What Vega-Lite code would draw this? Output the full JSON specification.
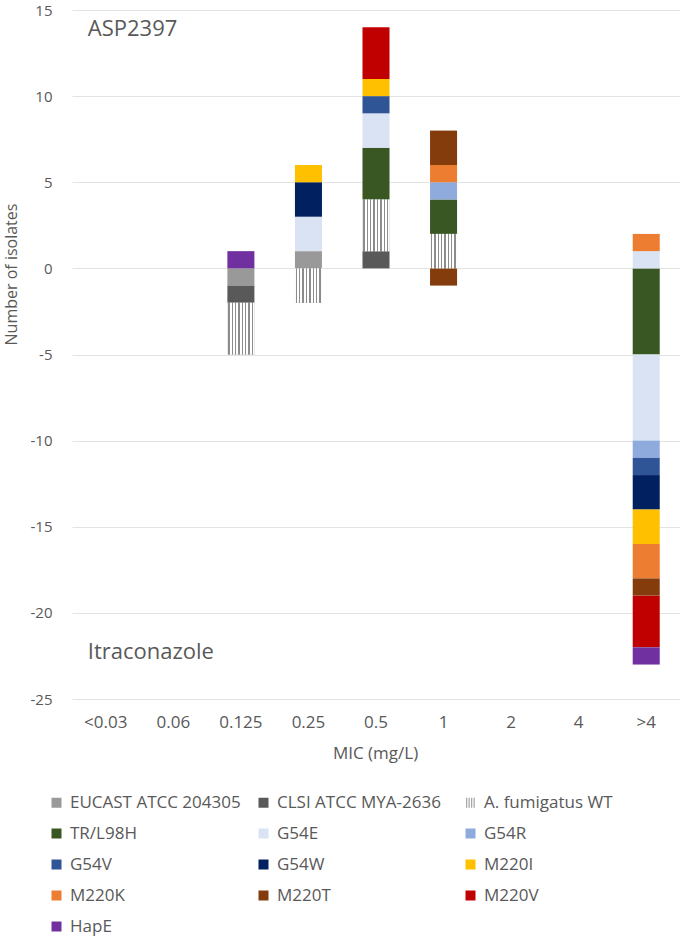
{
  "$schema": "https://vega.github.io/schema/vega-lite/v6.json",
  "autosize": {"type": "none"},
  "width": 608,
  "height": 689,
  "padding": {"left": 72, "top": 10, "right": 0, "bottom": 238},
  "background": "white",
  "config": {
    "font": "Open Sans",
    "view": {"stroke": null},
    "axis": {"labelColor": "#595959", "titleColor": "#595959", "labelFontSize": 16, "titleFontSize": 17, "titleFontWeight": "normal", "domain": false, "ticks": false, "tickSize": 0},
    "legend": {"labelColor": "#595959"}
  },
  "datasets": {
    "bars": [
      {"mic": "0.125", "series": "EUCAST ATCC 204305", "count": -1},
      {"mic": "0.125", "series": "CLSI ATCC MYA-2636", "count": -1},
      {"mic": "0.125", "series": "A. fumigatus WT", "count": -3},
      {"mic": "0.125", "series": "HapE", "count": 1},
      {"mic": "0.25", "series": "EUCAST ATCC 204305", "count": 1},
      {"mic": "0.25", "series": "A. fumigatus WT", "count": -2},
      {"mic": "0.25", "series": "G54E", "count": 2},
      {"mic": "0.25", "series": "G54W", "count": 2},
      {"mic": "0.25", "series": "M220I", "count": 1},
      {"mic": "0.5", "series": "CLSI ATCC MYA-2636", "count": 1},
      {"mic": "0.5", "series": "A. fumigatus WT", "count": 3},
      {"mic": "0.5", "series": "TR/L98H", "count": 3},
      {"mic": "0.5", "series": "G54E", "count": 2},
      {"mic": "0.5", "series": "G54V", "count": 1},
      {"mic": "0.5", "series": "M220I", "count": 1},
      {"mic": "0.5", "series": "M220V", "count": 3},
      {"mic": "1", "series": "A. fumigatus WT", "count": 2},
      {"mic": "1", "series": "TR/L98H", "count": 2},
      {"mic": "1", "series": "G54R", "count": 1},
      {"mic": "1", "series": "M220K", "count": 1},
      {"mic": "1", "series": "M220T", "count": 2},
      {"mic": "1", "series": "M220T", "count": -1},
      {"mic": ">4", "series": "TR/L98H", "count": -5},
      {"mic": ">4", "series": "G54E", "count": 1},
      {"mic": ">4", "series": "G54E", "count": -5},
      {"mic": ">4", "series": "G54R", "count": -1},
      {"mic": ">4", "series": "G54V", "count": -1},
      {"mic": ">4", "series": "G54W", "count": -2},
      {"mic": ">4", "series": "M220I", "count": -2},
      {"mic": ">4", "series": "M220K", "count": 1},
      {"mic": ">4", "series": "M220K", "count": -2},
      {"mic": ">4", "series": "M220T", "count": -1},
      {"mic": ">4", "series": "M220V", "count": -3},
      {"mic": ">4", "series": "HapE", "count": -1}
    ],
    "notes": [
      {"mic": "<0.03", "value": 13.5, "label": "ASP2397"},
      {"mic": "<0.03", "value": -22.7, "label": "Itraconazole"}
    ]
  },
  "encoding": {
    "x": {
      "field": "mic", "type": "nominal",
      "scale": {"domain": ["<0.03", "0.06", "0.125", "0.25", "0.5", "1", "2", "4", ">4"], "paddingInner": 0.6, "paddingOuter": 0.3},
      "axis": {"title": "MIC (mg/L)", "labelAngle": 0, "labelFontSize": 17, "labelPadding": 15, "titleX": 303, "titleY": 54, "titleBaseline": "middle", "titleAlign": "center", "titleFontSize": 17, "grid": false}
    }
  },
  "layer": [
    {
      "data": {"name": "bars"},
      "transform": [{"stack": "count", "groupby": ["mic"], "as": ["y0", "y1"]}],
      "mark": {"type": "bar", "strokeWidth": 0},
      "encoding": {
        "y": {
          "field": "y0", "type": "quantitative",
          "scale": {"domain": [-25, 15], "nice": false},
          "axis": {"title": "Number of isolates", "values": [-25, -20, -15, -10, -5, 0, 5, 10, 15], "labelExpr": "'' + datum.value", "labelFontSize": 15, "grid": true, "gridColor": "#e3e3e3", "labelPadding": 20, "titleX": -61, "titleY": 264, "titleAngle": -90, "titleAlign": "center", "titleBaseline": "middle", "titleFontSize": 16}
        },
        "y2": {"field": "y1"},
        "color": {
          "field": "series", "type": "nominal",
          "scale": {
            "domain": ["EUCAST ATCC 204305", "CLSI ATCC MYA-2636", "A. fumigatus WT", "TR/L98H", "G54E", "G54R", "G54V", "G54W", "M220I", "M220K", "M220T", "M220V", "HapE"],
            "range": ["#999999", "#595959", "#a6a6a6", "#385723", "#dae3f3", "#8faadc", "#2f5597", "#002060", "#ffc000", "#ed7d31", "#843c0c", "#c00000", "#7030a0"]
          },
          "legend": {
            "title": null, "orient": "none", "legendX": -24, "legendY": 784,
            "direction": "horizontal",
            "columns": 3, "gridAlign": "all", "columnPadding": 14, "rowPadding": 13,
            "symbolType": "square", "symbolSize": 100, "symbolStrokeWidth": 0,
            "labelFontSize": 17, "labelOffset": 5, "labelLimit": 300,
            "encode": {
              "symbols": {
                "update": {
                  "shape": [
                    {"test": "datum.label === 'A. fumigatus WT' || datum.value === 'A. fumigatus WT'", "value": "M-0.9,-1H-0.65V1H-0.9Z M-0.4,-1H-0.15V1H-0.4Z M0.1,-1H0.35V1H0.1Z M0.6,-1H0.85V1H0.6Z"},
                    {"value": "square"}
                  ]
                }
              }
            }
          }
        }
      }
    },
    {
      "data": {"name": "bars"},
      "transform": [
        {"stack": "count", "groupby": ["mic"], "as": ["y0", "y1"]},
        {"filter": "datum.series === 'A. fumigatus WT'"}
      ],
      "mark": {"type": "bar", "strokeWidth": 0, "fill": {"gradient": "linear", "x1": 0, "x2": 1, "y1": 0, "y2": 0, "stops": [
        {"offset": 0, "color": "#ffffff"}, {"offset": 0.03, "color": "#ffffff"},
        {"offset": 0.03, "color": "#8c8c8c"}, {"offset": 0.08, "color": "#8c8c8c"},
        {"offset": 0.08, "color": "#ffffff"}, {"offset": 0.155, "color": "#ffffff"},
        {"offset": 0.155, "color": "#8c8c8c"}, {"offset": 0.205, "color": "#8c8c8c"},
        {"offset": 0.205, "color": "#ffffff"}, {"offset": 0.28, "color": "#ffffff"},
        {"offset": 0.28, "color": "#8c8c8c"}, {"offset": 0.33, "color": "#8c8c8c"},
        {"offset": 0.33, "color": "#ffffff"}, {"offset": 0.405, "color": "#ffffff"},
        {"offset": 0.405, "color": "#8c8c8c"}, {"offset": 0.455, "color": "#8c8c8c"},
        {"offset": 0.455, "color": "#ffffff"}, {"offset": 0.53, "color": "#ffffff"},
        {"offset": 0.53, "color": "#8c8c8c"}, {"offset": 0.58, "color": "#8c8c8c"},
        {"offset": 0.58, "color": "#ffffff"}, {"offset": 0.655, "color": "#ffffff"},
        {"offset": 0.655, "color": "#8c8c8c"}, {"offset": 0.705, "color": "#8c8c8c"},
        {"offset": 0.705, "color": "#ffffff"}, {"offset": 0.78, "color": "#ffffff"},
        {"offset": 0.78, "color": "#8c8c8c"}, {"offset": 0.83, "color": "#8c8c8c"},
        {"offset": 0.83, "color": "#ffffff"}, {"offset": 0.905, "color": "#ffffff"},
        {"offset": 0.905, "color": "#8c8c8c"}, {"offset": 0.955, "color": "#8c8c8c"},
        {"offset": 0.955, "color": "#ffffff"}, {"offset": 1, "color": "#ffffff"}
      ]}},
      "encoding": {
        "y": {"field": "y0", "type": "quantitative"},
        "y2": {"field": "y1"}
      }
    },
    {
      "data": {"name": "notes"},
      "mark": {"type": "text", "align": "left", "baseline": "alphabetic", "dx": -18, "fontSize": 22, "color": "#595959"},
      "encoding": {
        "y": {"field": "value", "type": "quantitative"},
        "text": {"field": "label"}
      }
    }
  ]
}
